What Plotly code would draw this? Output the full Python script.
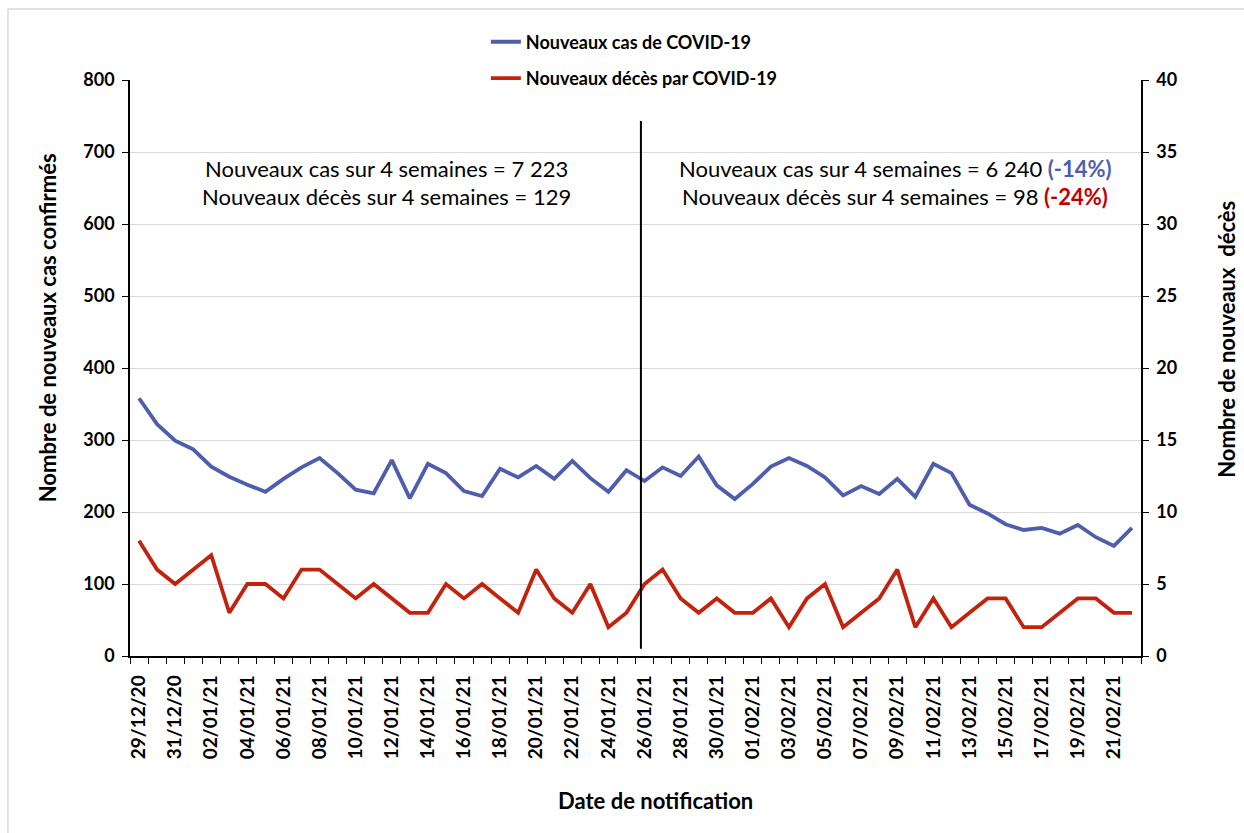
import plotly.graph_objects as go

# Daily notifications, 29/12/20 -> 22/02/21
dates = [
    "29/12/20", "30/12/20", "31/12/20", "01/01/21", "02/01/21", "03/01/21", "04/01/21",
    "05/01/21", "06/01/21", "07/01/21", "08/01/21", "09/01/21", "10/01/21", "11/01/21",
    "12/01/21", "13/01/21", "14/01/21", "15/01/21", "16/01/21", "17/01/21", "18/01/21",
    "19/01/21", "20/01/21", "21/01/21", "22/01/21", "23/01/21", "24/01/21", "25/01/21",
    "26/01/21", "27/01/21", "28/01/21", "29/01/21", "30/01/21", "31/01/21", "01/02/21",
    "02/02/21", "03/02/21", "04/02/21", "05/02/21", "06/02/21", "07/02/21", "08/02/21",
    "09/02/21", "10/02/21", "11/02/21", "12/02/21", "13/02/21", "14/02/21", "15/02/21",
    "16/02/21", "17/02/21", "18/02/21", "19/02/21", "20/02/21", "21/02/21", "22/02/21",
]

nouveaux_cas = [
    358, 322, 299, 287, 263, 249, 238, 228, 246, 262, 275, 254, 231, 226,
    272, 219, 267, 254, 229, 222, 260, 248, 264, 246, 271, 247, 228, 258,
    243, 262, 250, 277, 237, 218, 239, 263, 275, 264, 248, 223, 236, 225,
    246, 221, 267, 254, 210, 198, 183, 175, 178, 170, 182, 165, 153, 178,
]

nouveaux_deces = [
    8, 6, 5, 6, 7, 3, 5, 5, 4, 6, 6, 5, 4, 5,
    4, 3, 3, 5, 4, 5, 4, 3, 6, 4, 3, 5, 2, 3,
    5, 6, 4, 3, 4, 3, 3, 4, 2, 4, 5, 2, 3, 4,
    6, 2, 4, 2, 3, 4, 4, 2, 2, 3, 4, 4, 3, 3,
]

period_split = 27.8  # boundary between the two 4-week periods
summary_left = ["Nouveaux cas sur 4 semaines = 7 223",
                "Nouveaux décès sur 4 semaines = 129"]
summary_right = ["Nouveaux cas sur 4 semaines = 6 240 ",
                 "Nouveaux décès sur 4 semaines = 98 "]
change_right = ["(-14%)", "(-24%)"]

BLUE = "#4E5EAD"
RED = "#C3220D"
FONT = "Lato, 'Open Sans', sans-serif"

x_idx = list(range(len(dates)))

fig = go.Figure()
fig.add_trace(go.Scatter(
    x=x_idx, y=nouveaux_cas, mode="lines", name="Nouveaux cas de COVID-19",
    line=dict(color=BLUE, width=3.8), legendgroup="a", yaxis="y",
))
fig.add_trace(go.Scatter(
    x=x_idx, y=nouveaux_deces, mode="lines", name="Nouveaux décès par COVID-19",
    line=dict(color=RED, width=3.8), legendgroup="b", yaxis="y2",
))

xtick_font = dict(family=FONT, size=19, color="black", weight="bold")
ytick_font = dict(family=FONT, size=18, color="black", weight="bold")

fig.update_layout(
    width=1244, height=833,
    margin=dict(l=130, r=103, t=80, b=177, autoexpand=False),
    paper_bgcolor="white", plot_bgcolor="white",
    font=dict(family=FONT, color="black"),
    showlegend=True,
    legend=dict(
        x=0.352, y=1.098, xanchor="left", yanchor="top",
        orientation="v", tracegroupgap=10,
        font=dict(family=FONT, size=18, color="black", weight="bold"),
        bgcolor="rgba(0,0,0,0)",
    ),
    xaxis=dict(
        range=[-0.5, len(dates) - 0.5],
        tickmode="array", tickvals=x_idx[::2], ticktext=dates[::2],
        tickangle=-90, ticks="", tickfont=xtick_font,
        ticklabelstandoff=10,
        showline=True, linecolor="black", linewidth=1.5,
        showgrid=False, zeroline=False,
        minor=dict(tickmode="array", tickvals=[i - 0.5 for i in range(len(dates) + 1)],
                   ticks="outside", ticklen=6, tickcolor="black", tickwidth=1.2,
                   showgrid=False),
    ),
    yaxis=dict(
        range=[0, 800], dtick=100, tick0=0,
        ticks="outside", ticklen=6, tickcolor="black", tickwidth=1.2,
        tickfont=ytick_font, ticklabelstandoff=4,
        showline=True, linecolor="black", linewidth=1.5,
        showgrid=True, gridcolor="#D9D9D9", gridwidth=1.2,
        zeroline=False,
    ),
    yaxis2=dict(
        range=[0, 40], dtick=5, tick0=0, overlaying="y", side="right",
        ticks="outside", ticklen=6, tickcolor="black", tickwidth=1.2,
        tickfont=ytick_font, ticklabelstandoff=4,
        showline=True, linecolor="black", linewidth=1.5,
        showgrid=False, zeroline=False,
    ),
)

# separator between the two periods
fig.add_shape(type="line", xref="x", yref="y", x0=period_split, x1=period_split,
              y0=10, y1=743, line=dict(color="black", width=2))

# chart frame
fig.add_shape(type="line", xref="paper", yref="paper", x0=-0.1207, x1=-0.1207,
              y0=-0.5, y1=1.1233, line=dict(color="#D9D9D9", width=1.5))
fig.add_shape(type="line", xref="paper", yref="paper", x0=-0.1207, x1=1.2,
              y0=1.1233, y1=1.1233, line=dict(color="#D9D9D9", width=1.5))

ann_font = dict(family=FONT, size=22, color="black")
for i, yv in enumerate([0.847, 0.797]):
    fig.add_annotation(xref="paper", yref="paper", x=0.254, y=yv, showarrow=False,
                       text=summary_left[i], font=ann_font, xanchor="center", yanchor="middle")
fig.add_annotation(xref="paper", yref="paper", x=0.757, y=0.847, showarrow=False,
                   text=summary_right[0] + f"<b><span style='color:{BLUE}'>{change_right[0]}</span></b>",
                   font=ann_font, xanchor="center", yanchor="middle")
fig.add_annotation(xref="paper", yref="paper", x=0.757, y=0.797, showarrow=False,
                   text=summary_right[1] + f"<b><span style='color:#C00000'>{change_right[1]}</span></b>",
                   font=ann_font, xanchor="center", yanchor="middle")

title_font = dict(family=FONT, size=22, color="black", weight="bold")
fig.add_annotation(xref="paper", yref="paper", x=(47 - 130) / 1011, y=0.569, showarrow=False,
                   text="Nombre de nouveaux cas confirmés", textangle=-90, font=title_font,
                   xanchor="center", yanchor="middle")
fig.add_annotation(xref="paper", yref="paper", x=(1227 - 130) / 1011, y=0.549, showarrow=False,
                   text="Nombre de nouveaux  décès", textangle=-90, font=title_font,
                   xanchor="center", yanchor="middle")
fig.add_annotation(xref="paper", yref="paper", x=(655 - 130) / 1011, y=(656 - 800) / 576,
                   showarrow=False, text="Date de notification", font=title_font,
                   xanchor="center", yanchor="middle")

fig.write_html("out.html")
